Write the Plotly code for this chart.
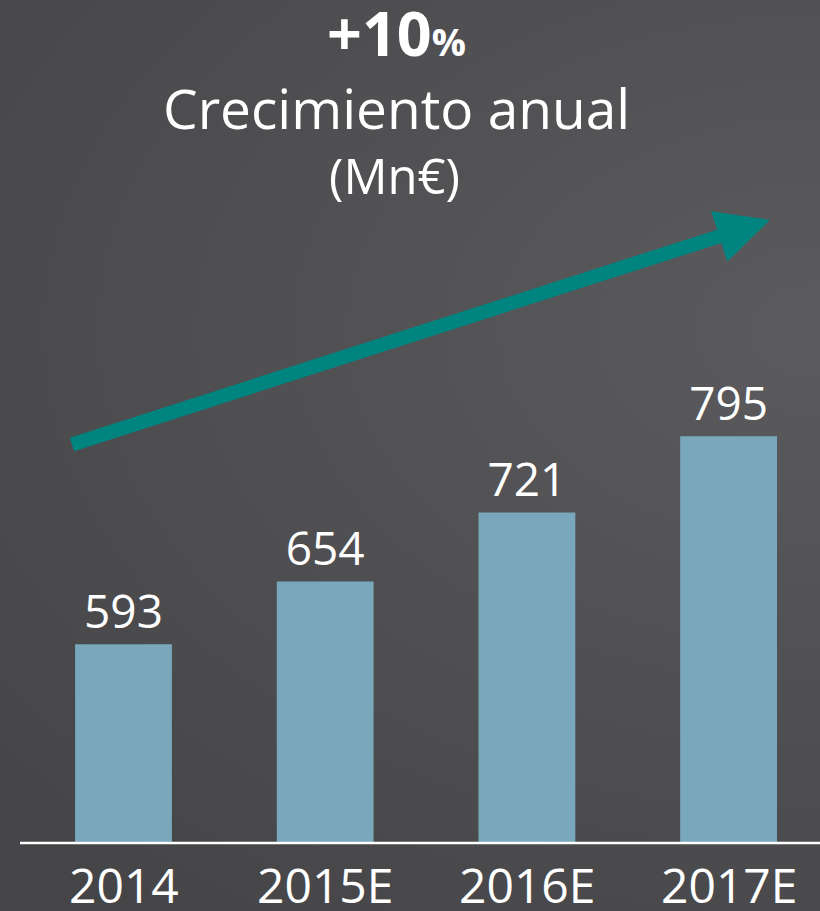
import numpy as np
import plotly.graph_objects as go

# ---- data ----
categories = ["2014", "2015E", "2016E", "2017E"]
values = [593, 654, 721, 795]
value_labels = ["593", "654", "721", "795"]
headline = "+10"
subtitle = "Crecimiento anual"
unit = "(Mn€)"

W, H = 820, 911
FONT = "Open Sans"
BAR_COLOR = "#79A7BB"
ARROW_COLOR = "#00847F"
AXIS_PX = 843  # pixel row of the baseline

# ---- background gradient (styling only) ----
gx = np.linspace(0, W, 42)
gy = np.linspace(0, H, 46)
XX, YY = np.meshgrid(gx, gy)
d = np.sqrt((XX - 820) ** 2 + ((YY - 330) * 1.5) ** 2)
bg = 0x5B - 22 * np.clip(d / 1100, 0, 1)

fig = go.Figure()
fig.add_trace(go.Heatmap(
    x=gx, y=gy, z=bg, zmin=0x44, zmax=0x5B, zsmooth="best",
    colorscale=[[0, "rgb(68,68,71)"], [1, "rgb(91,91,94)"]],
    showscale=False, hoverinfo="skip", xaxis="x", yaxis="y"))

fig.add_trace(go.Bar(
    x=categories, y=values, width=0.48,
    marker=dict(color=BAR_COLOR, line=dict(width=0)),
    text=value_labels, textposition="outside",
    textfont=dict(family=FONT, size=46, color="white"),
    cliponaxis=False, hoverinfo="skip", xaxis="x2", yaxis="y2"))

# value scale: 1.0297 px per unit, baseline value 400 at AXIS_PX
k = 1.0297
y_lo = 400
y_hi = y_lo + AXIS_PX / k
px_per_cat = 201.7
x0 = -123.5 / px_per_cat
x1 = x0 + W / px_per_cat

def P(px, py):
    return px / W, 1 - py / H

# arrow geometry
tail = np.array([72.0, 444.5])
tip = np.array([770.0, 220.0])
u = (tip - tail) / np.linalg.norm(tip - tail)
n = np.array([-u[1], u[0]])
shaft_half = 7.0
head_half = 26.4
head_len = 53.3
base_mid = tip - u * head_len
pts = [tail - n * shaft_half, base_mid - n * shaft_half, base_mid - n * head_half,
       tip, base_mid + n * head_half, base_mid + n * shaft_half, tail + n * shaft_half]
path = "M " + " L ".join("%.5f,%.5f" % P(p[0], p[1]) for p in pts) + " Z"

shapes = [
    dict(type="path", path=path, xref="paper", yref="paper",
         fillcolor=ARROW_COLOR, line=dict(width=0)),
    dict(type="line", xref="paper", yref="paper", x0=20 / W, x1=1,
         y0=1 - AXIS_PX / H, y1=1 - AXIS_PX / H, line=dict(color="white", width=2.5)),
]

annotations = [
    dict(text="<b>" + headline + "<span style='font-size:38px'>%</span></b>",
         x=396 / W, y=1 - 32 / H, xref="paper", yref="paper", showarrow=False,
         font=dict(family=FONT, size=61, color="white"), xanchor="center", yanchor="middle"),
    dict(text=subtitle, x=396 / W, y=1 - 107 / H, xref="paper", yref="paper", showarrow=False,
         font=dict(family=FONT, size=55, color="white"), xanchor="center", yanchor="middle"),
    dict(text=unit, x=394 / W, y=1 - 175 / H, xref="paper", yref="paper", showarrow=False,
         font=dict(family=FONT, size=49, color="white"), xanchor="center", yanchor="middle"),
]
for i, c in enumerate(categories):
    annotations.append(dict(text=c, x=i, y=1 - 884 / H, xref="x2", yref="paper",
                            showarrow=False, xanchor="center", yanchor="middle",
                            font=dict(family=FONT, size=48, color="white")))

fig.update_layout(
    width=W, height=H, margin=dict(l=0, r=0, t=0, b=0),
    paper_bgcolor="#4c4c4f", plot_bgcolor="rgba(0,0,0,0)",
    showlegend=False,
    xaxis=dict(range=[0, W], visible=False, fixedrange=True, domain=[0, 1]),
    yaxis=dict(range=[H, 0], visible=False, fixedrange=True, domain=[0, 1]),
    xaxis2=dict(type="category", categoryorder="array", categoryarray=categories,
                range=[x0, x1], visible=False, domain=[0, 1], anchor="y2"),
    yaxis2=dict(range=[y_lo, y_hi], visible=False, domain=[1 - AXIS_PX / H, 1], anchor="x2"),
    shapes=shapes, annotations=annotations,
)

fig.write_html("out.html", config={"displayModeBar": False},
               post_script="document.body.style.margin='0';document.body.style.padding='0';")
